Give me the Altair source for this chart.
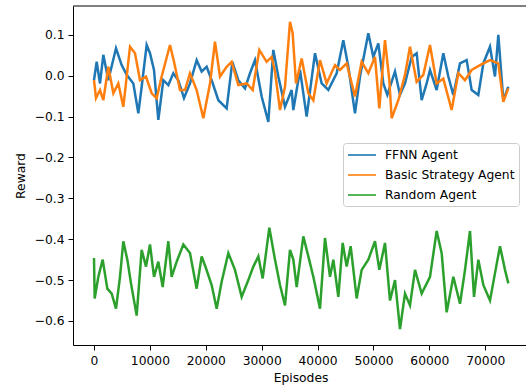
import altair as alt
import pandas as pd

agents = ["FFNN Agent", "Basic Strategy Agent", "Random Agent"]
colors = ["#1f77b4", "#ff7f0e", "#2ca02c"]

ffnn_ep = [0, 477, 1073, 1670, 2563, 3936, 4950, 5844, 7037, 7931,
           8527, 9421, 10017, 10733, 11508, 12403, 13297, 14192, 15086, 16100,
           17173, 18366, 19260, 20155, 21049, 22242, 23733, 24747, 25820, 27013,
           27907, 28802, 29994, 31187, 32082, 32976, 34169, 35362,
           35660, 36852, 38045, 39536, 40728, 41921, 43412, 44605, 45499, 46692,
           47586, 49077, 49971, 50866, 51760, 52476, 53847, 54742, 55636, 56829,
           57723, 58618, 59512, 60109, 61301, 62494, 63388, 64283, 65475, 66668,
           67562, 68755, 69650, 70842, 71737, 72333, 73228, 74122]
ffnn_reward = [-0.011, 0.034, -0.019, 0.051, -0.011, 0.067, 0.026, 0.002, -0.019, -0.092,
               -0.027, 0.075, 0.055, 0.014, -0.108, -0.011, -0.023, 0.006, -0.011, -0.055,
               -0.019, 0.038, 0.010, 0.022, -0.011, -0.060, -0.080, 0.034, -0.011, -0.031,
               0.006, 0.038, -0.051, -0.113, 0.063, -0.002, -0.076, -0.035,
               -0.084, 0.014, -0.100, 0.055, -0.019, -0.035, 0.006, 0.087, 0.022, -0.092,
               -0.002, 0.104, 0.046, 0.079, -0.019, -0.047, 0.010, -0.047, -0.019, 0.046,
               0.055, -0.060, -0.019, 0.014, -0.035, 0.055, -0.002, -0.047, 0.030, 0.038,
               -0.035, -0.047, 0.030, 0.071, -0.002, 0.100, -0.060, -0.027]

basic_ep = [0, 358, 1073, 1670, 2563, 3458, 4353, 5247, 6440, 7335,
            8229, 9302, 10316, 11210, 12105, 13596, 14311, 15385, 16280, 17173,
            18366, 19559, 20751, 21646, 22540, 23733, 24628, 25820, 27311, 28385,
            29577, 30889, 31784, 32380, 33275, 34169, 35064,
            35541, 36137, 37151, 38343, 39238, 40430, 41623, 43114, 44008, 45201,
            46692, 47884, 49077, 50269, 51044, 52058, 52833, 53250, 54443, 55636,
            56530, 57723, 58916, 60109, 61301, 62494, 63985, 65177, 66370, 67562,
            69053, 70842, 72333, 73228, 74122]
basic_reward = [-0.011, -0.055, -0.035, -0.060, 0.022, -0.043, -0.019, -0.076, 0.071, 0.055,
                -0.011, -0.002, -0.043, -0.055, -0.002, 0.075, 0.034, -0.035, -0.035, 0.006,
                -0.035, -0.104, -0.019, 0.083, -0.002, 0.022, 0.034, -0.023, -0.019, -0.035,
                0.063, 0.034, 0.046, 0.010, -0.084, -0.027, 0.132,
                0.104, -0.019, 0.042, -0.043, -0.060, 0.038, -0.019, 0.026, 0.014, 0.030,
                -0.051, 0.034, 0.006, 0.046, -0.080, 0.087, -0.011, -0.104, -0.060, 0.002,
                0.071, -0.015, 0.002, 0.075, -0.019, -0.007, -0.084, 0.006, -0.011, 0.014,
                0.026, 0.038, 0.030, -0.064, -0.031]

random_ep = [0, 119, 775, 1551, 2385, 3161, 3936, 4651, 5247, 5963,
             6619, 7633, 8527, 9302, 10017, 10733, 11508, 12283, 13297, 13893,
             14788, 15981, 17173, 18366, 19260, 20036, 21049, 21944, 22838, 24031,
             25223, 26416, 27609, 28504, 29398, 30174, 31366, 32380, 33275, 34169,
             35064, 35661, 36257, 37450, 38344, 39239, 40431, 41326, 42220, 42817,
             43711, 44487, 45202, 45918, 46991, 47886, 49078, 50271, 51046, 52060,
             52954, 53849, 54743, 55638, 56532, 57427, 58620, 60110, 61303, 62198,
             63092, 64285, 65477, 66372, 67266, 67982, 68757, 69652, 70844, 71739,
             72633, 73528, 74124]
random_reward = [-0.446, -0.545, -0.492, -0.450, -0.521, -0.533, -0.570, -0.492, -0.405, -0.450,
                 -0.508, -0.587, -0.426, -0.467, -0.413, -0.492, -0.455, -0.517, -0.405, -0.492,
                 -0.455, -0.413, -0.434, -0.521, -0.442, -0.471, -0.512, -0.570, -0.504, -0.434,
                 -0.475, -0.541, -0.500, -0.467, -0.442, -0.496, -0.372, -0.450, -0.512, -0.562,
                 -0.426, -0.450, -0.517, -0.393, -0.442, -0.492, -0.570, -0.397, -0.492, -0.450,
                 -0.541, -0.409, -0.467, -0.417, -0.545, -0.475, -0.450, -0.405, -0.475, -0.409,
                 -0.550, -0.500, -0.620, -0.533, -0.562, -0.475, -0.533, -0.492, -0.380, -0.434,
                 -0.579, -0.492, -0.558, -0.475, -0.380, -0.541, -0.450, -0.512, -0.550, -0.483,
                 -0.417, -0.475, -0.508]

x_ticks = [0, 10000, 20000, 30000, 40000, 50000, 60000, 70000]
y_ticks = [-0.6, -0.5, -0.4, -0.3, -0.2, -0.1, 0.0, 0.1]

rows = []
for name, eps, rews in [(agents[0], ffnn_ep, ffnn_reward),
                        (agents[1], basic_ep, basic_reward),
                        (agents[2], random_ep, random_reward)]:
    assert len(eps) == len(rews), name
    for e, r in zip(eps, rews):
        rows.append({"Episodes": e, "Reward": r, "Agent": name})
df = pd.DataFrame(rows)

W, H = 453, 339
FONT = "DejaVu Sans"
FS = 12.3

lines = alt.Chart(df).mark_line(strokeWidth=2.5, clip=True).encode(
    x=alt.X("Episodes:Q",
            scale=alt.Scale(domain=[-3757, 77285], nice=False, zero=False),
            axis=alt.Axis(values=x_ticks, format="d", title="Episodes",
                          titleX=227.5, titleY=32, titleBaseline="middle",
                          titleAlign="center")),
    y=alt.Y("Reward:Q",
            scale=alt.Scale(domain=[-0.6588, 0.1705], nice=False, zero=False),
            axis=alt.Axis(values=y_ticks, format=".1f", title="Reward",
                          titleX=-52.3, titleY=169.5, titleBaseline="middle",
                          titleAlign="center", titleAngle=270)),
    color=alt.Color("Agent:N",
                    scale=alt.Scale(domain=agents, range=colors),
                    legend=alt.Legend(title=None, orient="none", legendX=270, legendY=137,
                                      symbolType="M-1,0L3,0", symbolSize=196,
                                      symbolStrokeWidth=1.6, labelOffset=22,
                                      labelFontSize=FS, labelFont=FONT, labelColor="black",
                                      rowPadding=5, padding=4,
                                      fillColor="rgba(255,255,255,0.8)",
                                      strokeColor="#cccccc", cornerRadius=3,
                                      labelLimit=300)),
    detail="Agent:N",
)

top_spine = alt.Chart(pd.DataFrame({"k": [0]})).mark_rule(color="black", strokeWidth=1).encode(
    x=alt.value(0), x2=alt.value(W), y=alt.value(0)
)

chart = alt.layer(lines, top_spine).properties(
    width=W, height=H,
    autosize=alt.AutoSizeParams(type="none"),
    padding={"left": 73, "top": 6, "right": 0, "bottom": 45},
    background="white",
).configure_view(stroke=None).configure_axis(
    grid=False, domainColor="black", domainWidth=1, tickColor="black", tickWidth=1,
    tickSize=5, labelPadding=4, labelFont=FONT, labelFontSize=FS, labelColor="black",
    titleFont=FONT, titleFontSize=FS, titleFontWeight="normal", titleColor="black",
)

chart.save("out.html", embed_options={"renderer": "svg", "actions": False})
